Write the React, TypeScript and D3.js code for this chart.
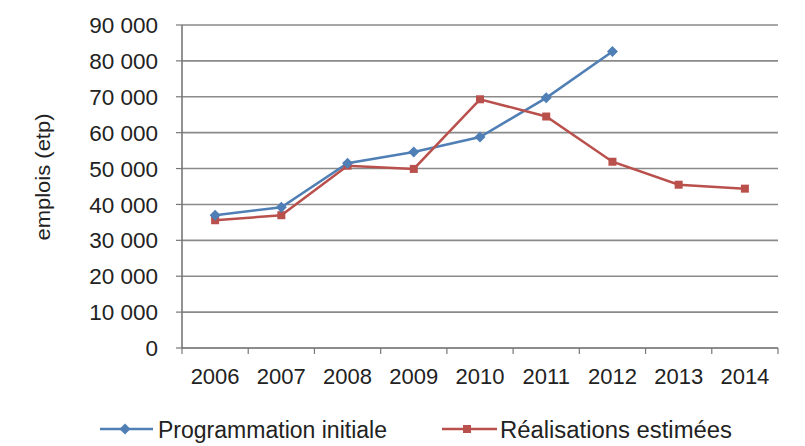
import React from "react";
import * as d3 from "d3";

const years = ["2006", "2007", "2008", "2009", "2010", "2011", "2012", "2013", "2014"];
const programmation: (number | null)[] = [37000, 39200, 51500, 54600, 58800, 69700, 82600, null, null];
const realisations: (number | null)[] = [35600, 37000, 50800, 49900, 69300, 64500, 51900, 45500, 44400];
const yTicks = [0, 10000, 20000, 30000, 40000, 50000, 60000, 70000, 80000, 90000];
const seriesNames = ["Programmation initiale", "Réalisations estimées"];

const W = 805, H = 446;
const M = { left: 182, right: 778, top: 25, bottom: 348 };
const BLUE = "#4f7fb5";
const RED = "#b9504c";
const FONT = "'Liberation Sans', Arial, sans-serif";

export default function App() {
  const x = d3.scaleBand<string>().domain(years).range([M.left, M.right]);
  const y = d3.scaleLinear().domain([0, 90000]).range([M.bottom, M.top]);
  const fmt = (v: number) => d3.format(",")(v).replace(/,/g, " ");
  const cx = (y0: string) => (x(y0) as number) + x.bandwidth() / 2;

  const mkLine = (vals: (number | null)[]) =>
    d3
      .line<number | null>()
      .defined((d) => d !== null)
      .x((_, i) => cx(years[i]))
      .y((d) => y(d as number))(vals) as string;

  const boundaries = d3.range(years.length + 1).map((i) => M.left + i * x.bandwidth());

  const diamond = (px: number, py: number, s: number) =>
    `M${px},${py - s}L${px + s},${py}L${px},${py + s}L${px - s},${py}Z`;

  return (
    <svg width={W} height={H} style={{ position: "absolute", left: 0, top: 0, background: "#fff" }}>
      <rect width={W} height={H} fill="#fff" />
      {/* gridlines */}
      {yTicks.slice(1).map((t) => (
        <line key={t} x1={M.left} x2={M.right} y1={y(t)} y2={y(t)} stroke="#8a8a8a" strokeWidth={1.6} />
      ))}
      {/* y tick marks */}
      {yTicks.map((t) => (
        <line key={"yt" + t} x1={M.left - 6} x2={M.left} y1={y(t)} y2={y(t)} stroke="#777" strokeWidth={1.2} />
      ))}
      {/* axes */}
      <line x1={M.left} x2={M.left} y1={M.top} y2={M.bottom} stroke="#777" strokeWidth={1.6} />
      <line x1={M.left} x2={M.right} y1={M.bottom} y2={M.bottom} stroke="#666" strokeWidth={1.6} />
      {boundaries.map((b, i) => (
        <line key={"xt" + i} x1={b} x2={b} y1={M.bottom} y2={M.bottom + 6} stroke="#777" strokeWidth={1.2} />
      ))}
      {/* y labels */}
      {yTicks.map((t) => (
        <text key={"yl" + t} x={158} y={y(t)} dy="0.36em" textAnchor="end" fontFamily={FONT} fontSize={22.5} fill="#222">
          {fmt(t)}
        </text>
      ))}
      {/* x labels */}
      {years.map((yr) => (
        <text key={"xl" + yr} x={cx(yr)} y={383.5} textAnchor="middle" fontFamily={FONT} fontSize={22} fill="#222">
          {yr}
        </text>
      ))}
      {/* y title */}
      <text
        transform={`translate(50,${177}) rotate(-90)`}
        textAnchor="middle"
        fontFamily={FONT}
        fontSize={21}
        fill="#222"
        textLength={127}
        lengthAdjust="spacingAndGlyphs"
      >
        emplois (etp)
      </text>
      {/* lines */}
      <path d={mkLine(programmation)} fill="none" stroke={BLUE} strokeWidth={2.5} />
      <path d={mkLine(realisations)} fill="none" stroke={RED} strokeWidth={2.5} />
      {realisations.map((v, i) =>
        v === null ? null : (
          <rect key={"rm" + i} x={cx(years[i]) - 4} y={y(v) - 4} width={8} height={8} fill={RED} />
        )
      )}
      {programmation.map((v, i) =>
        v === null ? null : (
          <path key={"bm" + i} d={diamond(cx(years[i]), y(v), 5.5)} fill={BLUE} />
        )
      )}
      {/* legend */}
      <line x1={100} x2={153} y1={429} y2={429} stroke={BLUE} strokeWidth={2.5} />
      <path d={diamond(125, 429, 5.5)} fill={BLUE} />
      <text x={158} y={438} fontFamily={FONT} fontSize={23} fill="#222" textLength={229} lengthAdjust="spacingAndGlyphs">
        {seriesNames[0]}
      </text>
      <line x1={442} x2={497} y1={429} y2={429} stroke={RED} strokeWidth={2.5} />
      <rect x={463} y={425} width={8} height={8} fill={RED} />
      <text x={500} y={438} fontFamily={FONT} fontSize={23} fill="#222" textLength={232} lengthAdjust="spacingAndGlyphs">
        {seriesNames[1]}
      </text>
    </svg>
  );
}
